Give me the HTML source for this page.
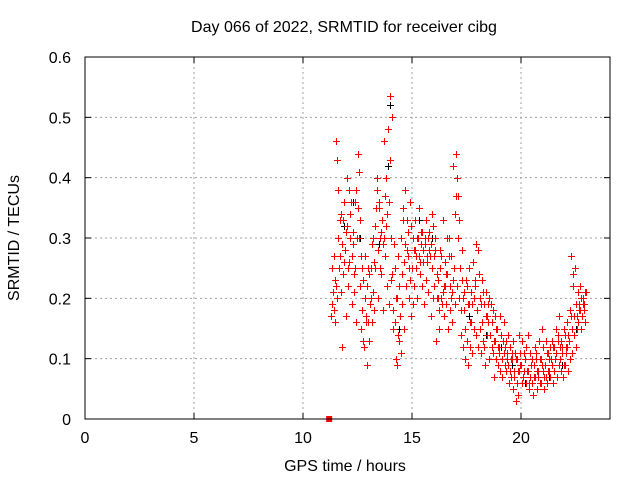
<!DOCTYPE html>
<html><head><meta charset="utf-8"><style>
body{margin:0;background:#fff}
svg text{font-family:"Liberation Sans",sans-serif;font-size:16px;fill:#000}
</style></head><body>
<svg id="chart" width="640" height="480" viewBox="0 0 640 480" xmlns="http://www.w3.org/2000/svg">
<rect width="640" height="480" fill="#fff"/>
<text x="344" y="32" text-anchor="middle">Day 066 of 2022, SRMTID for receiver cibg</text>
<text transform="translate(19,238) rotate(-90)" text-anchor="middle">SRMTID / TECUs</text>
<text x="345" y="471" text-anchor="middle">GPS time / hours</text>
<g id="grid"></g><g id="ticks"></g><g id="marks"></g>
<rect x="85" y="57" width="525" height="362" fill="none" stroke="#000" stroke-width="1"/>
</svg>
<script>
const xTicks=[0,5,10,15,20];
const yTicks=[0,0.1,0.2,0.3,0.4,0.5,0.6];
const yTickLabels=["0","0.1","0.2","0.3","0.4","0.5","0.6"];
const hours=[11.3,11.4,11.5,11.6,11.7,11.8,11.9,12.0,12.1,12.2,12.3,12.4,12.5,12.6,12.7,12.8,12.9,13.0,13.1,13.2,13.3,13.4,13.5,13.6,13.7,13.8,13.9,14.0,14.1,14.2,14.3,14.4,14.5,14.6,14.7,14.8,14.9,15.0,15.1,15.2,15.3,15.4,15.5,15.6,15.7,15.8,15.9,16.0,16.1,16.2,16.3,16.4,16.5,16.6,16.7,16.8,16.9,17.0,17.1,17.2,17.3,17.4,17.5,17.6,17.7,17.8,17.9,18.0,18.1,18.2,18.3,18.4,18.5,18.6,18.7,18.8,18.9,19.0,19.1,19.2,19.3,19.4,19.5,19.6,19.7,19.8,19.9,20.0,20.1,20.2,20.3,20.4,20.5,20.6,20.7,20.8,20.9,21.0,21.1,21.2,21.3,21.4,21.5,21.6,21.7,21.8,21.9,22.0,22.1,22.2,22.3,22.4,22.5,22.6,22.7,22.8,22.9];
const redA=[.17,.18,.46,.30,.27,.12,.36,.32,.38,.36,.31,.25,.44,.22,.18,.12,.17,.16,.20,.30,.32,.40,.36,.24,.46,.40,.48,.535,.24,.16,.09,.13,.30,.33,.38,.31,.36,.25,.22,.27,.35,.29,.28,.29,.26,.31,.34,.27,.13,.23,.25,.33,.26,.24,.30,.27,.42,.44,.37,.25,.23,.18,.22,.19,.16,.26,.22,.18,.20,.23,.19,.21,.16,.14,.18,.13,.15,.12,.14,.11,.13,.09,.12,.10,.08,.06,.14,.09,.07,.10,.08,.11,.06,.09,.11,.07,.10,.12,.09,.06,.10,.13,.08,.11,.14,.10,.12,.09,.16,.13,.27,.22,.19,.21,.18,.17,.18];
const redB=[.25,.27,.22,.38,.34,.33,.28,.40,.26,.27,.24,.38,.35,.33,.25,.20,.22,.24,.25,.21,.25,.28,.30,.33,.30,.32,.36,.30,.15,.25,.20,.22,.19,.26,.22,.27,.23,.30,.28,.30,.27,.31,.26,.33,.30,.27,.25,.22,.24,.18,.20,.21,.22,.30,.18,.21,.25,.37,.30,.18,.12,.10,.13,.25,.21,.15,.29,.28,.15,.16,.12,.14,.20,.19,.11,.17,.09,.17,.10,.16,.08,.14,.07,.13,.11,.10,.08,.13,.11,.06,.14,.07,.10,.12,.05,.13,.06,.08,.13,.11,.07,.09,.12,.15,.09,.13,.07,.14,.12,.18,.15,.14,.12,.16,.22,.20,.16];
const redC=[.19,.16,.20,.25,.21,.24,.17,.22,.30,.19,.21,.16,.30,.15,.13,.27,.09,.13,.16,.18,.35,.20,.25,.18,.27,.22,.19,.23,.18,.10,.27,.17,.24,.15,.28,.20,.17,.19,.33,.20,.24,.22,.19,.23,.21,.17,.20,.30,.20,.15,.27,.17,.19,.15,.22,.16,.19,.22,.20,.14,.20,.15,.09,.12,.11,.20,.14,.12,.11,.13,.09,.17,.10,.12,.07,.10,.12,.08,.07,.09,.10,.06,.10,.05,.03,.04,.09,.06,.08,.12,.05,.09,.04,.07,.08,.10,.15,.05,.07,.08,.12,.06,.10,.07,.17,.08,.15,.11,.08,.10,.11,.17,.15,.18,.15,.19,.21];
const redD=[.21,.23,.43,.33,.29,.26,.31,.25,.34,.29,.36,.30,.41,.27,.23,.16,.25,.19,.29,.26,.38,.35,.31,.29,.37,.34,.43,.50,.29,.20,.14,.11,.35,.29,.33,.25,.32,.28,.25,.30,.26,.31,.30,.27,.28,.29,.32,.28,.20,.28,.19,.22,.24,.27,.20,.23,.34,.40,.33,.28,.21,.23,.19,.16,.19,.23,.18,.24,.19,.21,.17,.19,.14,.16,.13,.15,.11,.14,.13,.12,.11,.08,.11,.07,.10,.08,.11,.07,.10,.08,.06,.09,.07,.10,.08,.06,.09,.07,.11,.08,.10,.12,.10,.13,.12,.11,.09,.12,.14,.17,.24,.25,.17,.19,.20,.19,.21];
const blackHours=[11.9,12.3,12.6,13.5,13.9,14.0,14.4,15.3,15.9,16.6,17.1,17.6,18.4,19.1,19.6,20.2,20.8,21.3,21.9,22.5];
const blackValues=[.32,.36,.30,.29,.42,.52,.15,.33,.30,.24,.30,.17,.14,.12,.09,.06,.08,.07,.09,.15];
const zeroHours=[11.2];
const zeroValues=[0];

const NS="http://www.w3.org/2000/svg";
const X0=85,X1=608.2,Y0=419,Y1=57;
function xs(h){return X0+h*(X1-X0)/24;}
function ys(v){return Y0-v*(Y0-Y1)/0.6;}
function mk(tag,attrs,parent){const e=document.createElementNS(NS,tag);for(const k in attrs)e.setAttribute(k,attrs[k]);parent.appendChild(e);return e;}
const grid=document.getElementById('grid'),ticks=document.getElementById('ticks'),marks=document.getElementById('marks');
xTicks.forEach((t,i)=>{
  const x=xs(t);
  if(t>0){const g=mk('line',{x1:x,x2:x,y1:57,y2:419,stroke:'#a0a0a0','stroke-dasharray':'2,3'},grid);
  
  }
  mk('line',{x1:x,x2:x,y1:419,y2:413,stroke:'#000'},ticks);
  mk('line',{x1:x,x2:x,y1:57,y2:63,stroke:'#000'},ticks);
  const l=mk('text',{x:x,y:443,'text-anchor':'middle'},ticks);l.textContent=t;
  
  
});
yTicks.forEach((t,i)=>{
  const y=ys(t);
  if(t>0&&t<0.6){const g=mk('line',{x1:85,x2:610,y1:y,y2:y,stroke:'#a0a0a0','stroke-dasharray':'2,3'},grid);
  
  }
  mk('line',{x1:85,x2:91,y1:y,y2:y,stroke:'#000'},ticks);
  mk('line',{x1:610,x2:604,y1:y,y2:y,stroke:'#000'},ticks);
  const l=mk('text',{x:71,y:y+6,'text-anchor':'end'},ticks);l.textContent=yTickLabels[i];
  
  
});
function plus(h,v,color){
  const x=Math.round(xs(h))+0.5,y=Math.round(ys(v))+0.5;
  const p=mk('path',{d:`M${x-3.5},${y}H${x+3.5}M${x},${y-3.5}V${y+3.5}`,stroke:color,'stroke-width':1,fill:'none'},marks);
  
  
}
blackHours.forEach((h,i)=>plus(h,blackValues[i],'#000'));
[redA,redB,redC,redD].forEach((s,k)=>hours.forEach((h,i)=>plus(h+k*0.025,s[i],'#ff0000')));
zeroHours.forEach((h,i)=>{
  const r=mk('rect',{x:xs(h)-3,y:ys(zeroValues[i])-3,width:6,height:6,fill:'#ff0000'},marks);
  
  
});
</script>
</body></html>
